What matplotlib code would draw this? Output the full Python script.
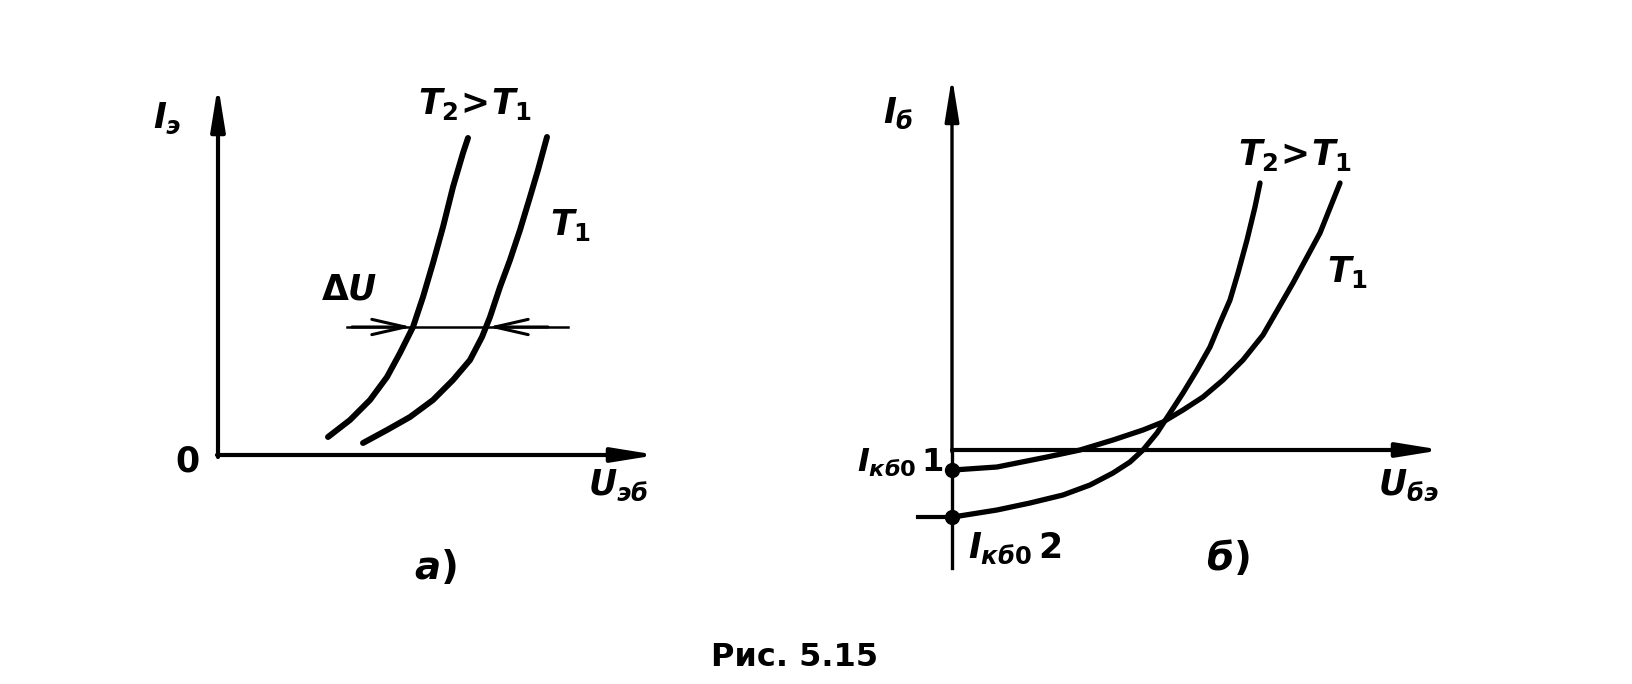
import matplotlib
matplotlib.use("Agg")
import matplotlib.pyplot as plt

plt.rcParams['mathtext.fontset'] = 'custom'
plt.rcParams['mathtext.it'] = 'DejaVu Sans:italic:bold'
plt.rcParams['mathtext.rm'] = 'DejaVu Sans:bold'
plt.rcParams['mathtext.bf'] = 'DejaVu Sans:bold'

# ---------------- data (arbitrary units) ----------------
# Panel a): emitter current vs emitter-base voltage
a_T2_U = [1.10, 1.32, 1.52, 1.69, 1.82, 1.95, 2.05, 2.15, 2.25, 2.35, 2.45, 2.50]
a_T2_I = [0.18, 0.35, 0.55, 0.78, 1.02, 1.28, 1.58, 1.92, 2.28, 2.68, 3.02, 3.17]
a_T1_U = [1.45, 1.69, 1.92, 2.15, 2.35, 2.52, 2.64, 2.72, 2.82, 2.92, 3.02, 3.12, 3.20, 3.29]
a_T1_I = [0.12, 0.25, 0.38, 0.55, 0.75, 0.95, 1.18, 1.38, 1.68, 1.95, 2.25, 2.58, 2.85, 3.18]
a_dU_level = 1.28
a_dU_tips = [1.94, 2.70]
a_dU_span = [1.29, 3.50]

# Panel б): base current vs base-emitter voltage
b_T2_U = [0.01, 0.45, 0.78, 1.11, 1.38, 1.61, 1.78, 1.91, 2.05, 2.18, 2.31, 2.45,
          2.58, 2.68, 2.78, 2.86, 2.95, 3.03, 3.08]
b_T2_I = [-0.67, -0.60, -0.53, -0.45, -0.35, -0.23, -0.12, 0.00, 0.17, 0.37, 0.57,
          0.80, 1.03, 1.27, 1.50, 1.77, 2.10, 2.43, 2.67]
b_T1_U = [0.01, 0.45, 0.95, 1.28, 1.61, 1.91, 2.11, 2.31, 2.51, 2.71, 2.91, 3.11,
          3.41, 3.68, 3.88]
b_T1_I = [-0.20, -0.17, -0.07, 0.00, 0.10, 0.20, 0.28, 0.40, 0.53, 0.70, 0.90,
          1.15, 1.67, 2.17, 2.67]
b_Ikb0 = [-0.20, -0.67]   # I_кб0 1 , I_кб0 2

W, H = 1632, 684
fig = plt.figure(figsize=(W / 100, H / 100), dpi=100)
fig.patch.set_facecolor('white')


def panel(x0, y0):
    ax = fig.add_axes([0, 0, 1, 1])
    ax.set_xlim(-x0 / 100, (W - x0) / 100)
    ax.set_ylim((y0 - H) / 100, y0 / 100)
    ax.axis('off')
    ax.patch.set_alpha(0)
    return ax


def axis_arrow(ax, start, end, lw=3.0):
    ax.annotate('', xy=end, xytext=start,
                arrowprops=dict(arrowstyle='-|>,head_length=2.6,head_width=0.42',
                                lw=lw, color='black', shrinkA=0, shrinkB=0))


def du_arrow(ax, tip, tail):
    ax.annotate('', xy=tip, xytext=tail,
                arrowprops=dict(arrowstyle='->,head_length=2.4,head_width=0.55',
                                lw=2.2, color='black', shrinkA=0, shrinkB=0))


lab = dict(fontsize=25, color='black', ha='center', va='center')
tlabel = r'$T_2\!>\!T_1$'

# ---------------- panel a) ----------------
ax1 = panel(218, 455)
axis_arrow(ax1, (0, -0.02), (0, 3.70))
axis_arrow(ax1, (-0.01, 0), (4.39, 0))
ax1.plot(a_T2_U, a_T2_I, color='black', lw=4.3, solid_capstyle='round', solid_joinstyle='round')
ax1.plot(a_T1_U, a_T1_I, color='black', lw=4.3, solid_capstyle='round', solid_joinstyle='round')
ax1.plot(a_dU_span, [a_dU_level] * 2, color='black', lw=1.8)
du_arrow(ax1, (a_dU_tips[0], a_dU_level), (a_dU_tips[0] - 0.6, a_dU_level))
du_arrow(ax1, (a_dU_tips[1], a_dU_level), (a_dU_tips[1] + 0.6, a_dU_level))
ax1.text(-0.51, 3.37, r'$I_{э}$', **lab)
ax1.text(-0.31, -0.07, r'$0$', **lab)
ax1.text(4.00, -0.30, r'$U_{эб}$', **lab)
ax1.text(1.31, 1.66, r'$\Delta U$', **lab)
ax1.text(2.57, 3.51, tlabel, **lab)
ax1.text(3.52, 2.30, r'$T_1$', **lab)
ax1.text(2.17, -1.13, r'$а)$', fontsize=28, ha='center', va='center')

# ---------------- panel б) ----------------
ax2 = panel(952, 450)
ax2.plot([0, 0], [-1.18, 0], color='black', lw=2.4)
axis_arrow(ax2, (0, -0.02), (0, 3.73), lw=2.4)
axis_arrow(ax2, (0, 0), (4.90, 0), lw=3.0)
ax2.plot(b_T2_U, b_T2_I, color='black', lw=3.8, solid_capstyle='round', solid_joinstyle='round')
ax2.plot(b_T1_U, b_T1_I, color='black', lw=3.8, solid_capstyle='round', solid_joinstyle='round')
ax2.plot([-0.34, 0], [b_Ikb0[1]] * 2, color='black', lw=3.0)
ax2.plot([0, 0], b_Ikb0, 'o', color='black', ms=10)
ax2.text(-0.54, 3.37, r'$I_{б}$', **lab)
ax2.text(3.43, 2.95, tlabel, **lab)
ax2.text(3.95, 1.78, r'$T_1$', **lab)
ax2.text(4.56, -0.35, r'$U_{бэ}$', **lab)
ax2.text(-0.08, -0.13, r'$I_{кб0}\,1$', fontsize=23, ha='right', va='center')
ax2.text(0.16, -0.98, r'$I_{кб0}\,2$', fontsize=25, ha='left', va='center')
ax2.text(2.76, -1.08, r'$б)$', fontsize=28, ha='center', va='center')

fig.text(795 / W, 1 - 658 / H, 'Рис. 5.15', fontsize=23, fontweight='bold',
         family='DejaVu Sans', ha='center', va='center')

fig.savefig('out.png', dpi=100, facecolor='white')
